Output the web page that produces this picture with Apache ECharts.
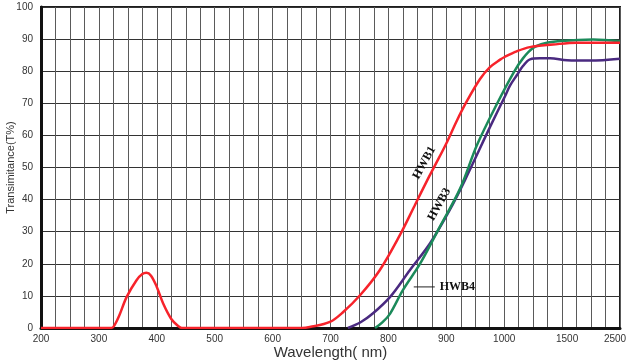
<!DOCTYPE html>
<html><head><meta charset="utf-8">
<script src="https://cdn.jsdelivr.net/npm/echarts@6/dist/echarts.min.js"></script>
<style>html,body{margin:0;padding:0;background:#fff}#c{width:630px;height:360px}</style>
</head><body><div id="c"></div>
<script>
// Wavelength (nm) tick labels shown on the axis
const xTickLabels = [200, 300, 400, 500, 600, 700, 800, 900, 1000, 1500, 2500];
const yTicks = [0, 10, 20, 30, 40, 50, 60, 70, 80, 90, 100];

// HWB1 (red)
const hwb1Wl = [200, 300, 322, 328, 335, 348, 365, 375, 382, 390, 400, 411, 425, 437, 443, 470, 600, 651, 664, 699, 722, 751, 785, 820, 845, 867, 880, 900, 918, 935, 958, 975, 993, 1007, 1108, 1222, 1421, 1750, 2500];
const hwb1T  = [0,   0,   0,   1.2, 3.8, 9.7, 14.9, 16.8, 17.2, 16.3, 12.8, 7.6, 2.8, 0.6, 0,  0,   0,   0,   0.3, 1.9, 5,   10.2, 18,  29,  38,  46,  50.5, 57.5, 64.5, 70.5, 77.5, 81.2, 83.6, 84.5, 86.2, 87.5, 88.3, 88.9, 88.9];

// HWB3 (purple)
const hwb3Wl = [730, 752, 773, 803, 837, 872, 906, 932, 976, 1007, 1050, 1110, 1162, 1223, 1309, 1396, 1585, 1982, 2500];
const hwb3T  = [0,   1.8, 4.5, 9.7, 18,  26.4, 36.8, 46, 62.8, 72.2, 75.5, 78.8, 81.6, 83.7, 84,  84,   83.4, 83.3, 83.9];

// HWB4 (green)
const hwb4Wl = [777, 790, 803, 825, 855, 889, 924, 953, 988, 1085, 1162, 1249, 1352, 1482, 2034, 2500];
const hwb4T  = [0,   1.8, 4.5, 11.8, 20.1, 31.6, 43.5, 57, 70, 79.8, 84,   87.2, 88.7, 89.4, 89.9, 89.3];

// Broken wavelength scale: linear to 1000 nm, then 1000-1500 and 1500-2500 each take 4 grid cells
function tx(w) {
  if (w <= 1000) return w;
  if (w <= 1500) return 1000 + (w - 1000) / 5;
  return 1100 + (w - 1500) / 10;
}
const zip = (ws, vs) => ws.map((w, i) => [tx(w), vs[i]]);
const tickPos = xTickLabels.map(tx);

const chart = echarts.init(document.getElementById('c'), null, {renderer: 'canvas'});
const gridCol = '#5a5a5a';
chart.setOption({
  animation: false,
  backgroundColor: '#fff',
  grid: {left: 41, right: 10, top: 7, bottom: 32, show: true, borderColor: '#1e1e1e', borderWidth: 2,
         containLabel: false, outerBoundsMode: 'none'},
  xAxis: {
    type: 'value', min: 200, max: 1200, interval: 25,
    name: 'Wavelength( nm)', nameLocation: 'middle', nameGap: 17, nameMoveOverlap: false,
    nameTextStyle: {fontFamily: 'Liberation Sans', fontSize: 15, color: '#333'},
    axisLine: {show: true, lineStyle: {color: '#111', width: 3}},
    axisTick: {show: false},
    splitLine: {show: true, lineStyle: {color: gridCol, width: 1}},
    axisLabel: {
      margin: 6, fontFamily: 'Liberation Sans', fontSize: 10, color: '#333',
      showMaxLabel: true, showMinLabel: true,
      formatter: function (v) {
        const i = tickPos.indexOf(v);
        if (i < 0) return '';
        const lab = String(xTickLabels[i]);
        if (lab === '2500') return '{r|' + lab + '}';
        if (lab === '1500') return '{m|' + lab + '}';
        return lab;
      },
      rich: {
        r: {fontFamily: 'Liberation Sans', fontSize: 10, color: '#333', padding: [0, 10, 0, 0]},
        m: {fontFamily: 'Liberation Sans', fontSize: 10, color: '#333', padding: [0, 0, 0, 10]}
      }
    }
  },
  yAxis: {
    type: 'value', min: 0, max: 100, interval: 10,
    name: 'Transimitance(T%)', nameLocation: 'middle', nameGap: 25, nameMoveOverlap: false,
    nameTextStyle: {fontFamily: 'Liberation Sans', fontSize: 11, color: '#333'},
    axisLine: {show: true, lineStyle: {color: '#111', width: 3}},
    axisTick: {show: false},
    splitLine: {show: true, lineStyle: {color: '#333', width: 1}},
    axisLabel: {margin: 8, fontFamily: 'Liberation Sans', fontSize: 10, color: '#333',
      formatter: v => yTicks.indexOf(v) >= 0 ? String(v) : ''}
  },
  series: [
    {name: 'HWB1', type: 'line', data: zip(hwb1Wl, hwb1T), smooth: 0.35, showSymbol: false,
     lineStyle: {color: '#f7232b', width: 2.5}, z: 5},
    {name: 'HWB4', type: 'line', data: zip(hwb4Wl, hwb4T), smooth: 0.35, showSymbol: false,
     lineStyle: {color: '#1b8a5a', width: 2.5}, z: 4},
    {name: 'HWB3', type: 'line', data: zip(hwb3Wl, hwb3T), smooth: 0.35, showSymbol: false,
     lineStyle: {color: '#4a2a80', width: 2.5}, z: 3}
  ]
});

// Curve annotations, positioned from the chart's own coordinate system
function px(w, v) { return chart.convertToPixel({gridIndex: 0}, [tx(w), v]); }
const p1 = px(862, 51.5), p3 = px(888, 38.5), p4 = px(830, 12.8);
const font = 'bold 12px "Liberation Serif", "DejaVu Serif", serif';
chart.setOption({
  graphic: [
    {type: 'text', x: p1[0], y: p1[1], rotation: Math.PI * 61 / 180,
     style: {text: 'HWB1', font: font, fill: '#111', align: 'center', verticalAlign: 'middle'}},
    {type: 'text', x: p3[0], y: p3[1], rotation: Math.PI * 61 / 180,
     style: {text: 'HWB3', font: font, fill: '#111', align: 'center', verticalAlign: 'middle'}},
    {type: 'line', shape: {x1: p4[0] + 8, y1: p4[1], x2: p4[0] + 29, y2: p4[1]},
     style: {stroke: '#222', lineWidth: 1}},
    {type: 'text', x: p4[0] + 34, y: p4[1],
     style: {text: 'HWB4', font: font, fill: '#111', align: 'left', verticalAlign: 'middle'}}
  ]
});
</script></body></html>
